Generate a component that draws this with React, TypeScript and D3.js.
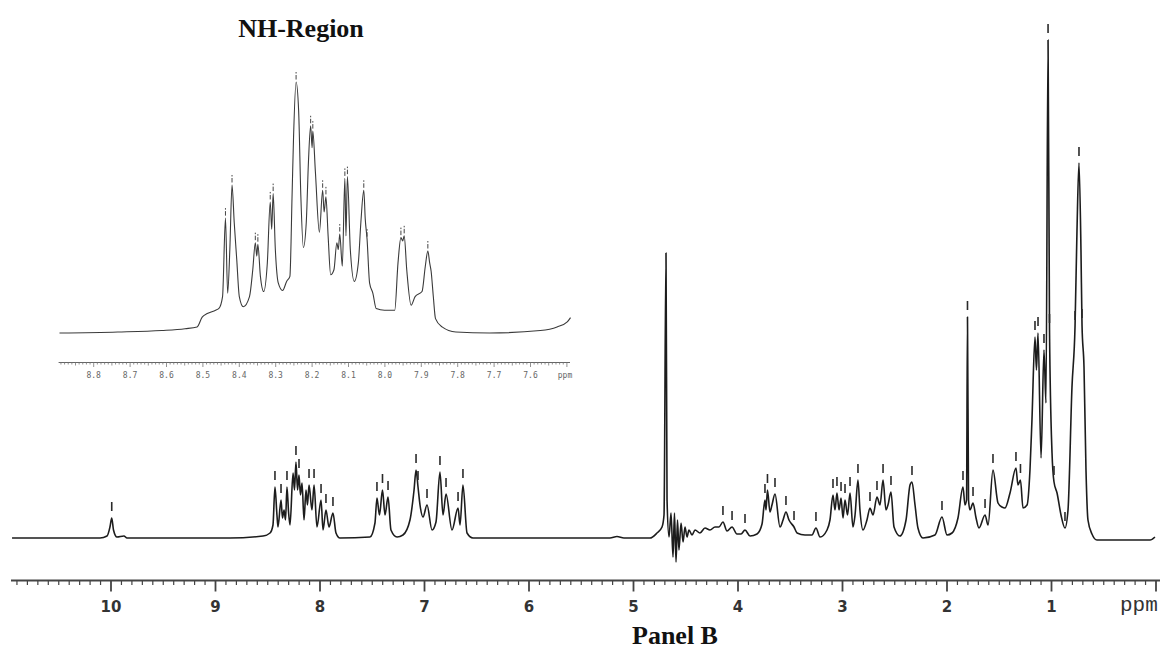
import React from 'react';
import * as d3 from 'd3';

// 1H spectrum, traced as [ppm, relative intensity] (tallest line = 100)
const mainTrace: [number, number][] = [
  [10.947, 0.4], [10.105, 0.4], [10.038, 0.8], [10.01, 2.6], [9.993, 4.4], [9.976, 2], [9.943, 0.6],
  [9.876, 0.8], [9.847, 0.4], [8.861, 0.4], [8.545, 0.8], [8.478, 1.4], [8.45, 3], [8.431, 10.6],
  [8.412, 5], [8.402, 2.6], [8.373, 8], [8.359, 4.4], [8.344, 6], [8.33, 4], [8.316, 10.6],
  [8.301, 5.6], [8.287, 3], [8.258, 13.4], [8.244, 10], [8.23, 15.6], [8.215, 10], [8.201, 13],
  [8.187, 9], [8.172, 11.4], [8.153, 4], [8.134, 10], [8.12, 7], [8.105, 11], [8.077, 6],
  [8.057, 11], [8.029, 2.6], [7.99, 8], [7.971, 2], [7.943, 6], [7.914, 2.6], [7.876, 5.4],
  [7.847, 1.4], [7.809, 0.4], [7.522, 0.6], [7.474, 3.4], [7.455, 8.4], [7.431, 5], [7.402, 10],
  [7.378, 5], [7.349, 8.6], [7.321, 2], [7.263, 0.6], [7.206, 1], [7.139, 4], [7.1, 10],
  [7.081, 14], [7.062, 10.6], [7.043, 7], [7.014, 4.6], [6.976, 7], [6.928, 2], [6.89, 3.6],
  [6.852, 13.6], [6.823, 5], [6.794, 9.2], [6.737, 2], [6.679, 6.4], [6.66, 3], [6.632, 11],
  [6.593, 1.4], [6.536, 0.4], [5.225, 0.4], [5.158, 0.7], [5.091, 0.4], [4.842, 0.4], [4.775, 1.4],
  [4.727, 2.6], [4.708, 5], [4.689, 57.4], [4.679, 8], [4.66, 0.6], [4.641, 5.4], [4.622, -3.4],
  [4.608, 5.4], [4.593, -4.4], [4.579, 4], [4.565, -2], [4.545, 3.4], [4.526, -0.4], [4.507, 2.6],
  [4.488, 0.6], [4.469, 2], [4.44, 1], [4.411, 2], [4.364, 1.4], [4.316, 2.4], [4.268, 2],
  [4.22, 2.6], [4.182, 2.6], [4.144, 3.6], [4.105, 1.8], [4.057, 2.6], [4.01, 1.2], [3.971, 1.2],
  [3.933, 2], [3.885, 0.8], [3.818, 1.2], [3.77, 3.2], [3.742, 8], [3.732, 6], [3.718, 10],
  [3.694, 5.6], [3.675, 7], [3.646, 9.2], [3.598, 2.6], [3.569, 4], [3.541, 5.6], [3.512, 4],
  [3.464, 2.6], [3.435, 1.4], [3.359, 1], [3.292, 1], [3.254, 2.4], [3.215, 0.6], [3.148, 2],
  [3.12, 4], [3.091, 9], [3.072, 6], [3.053, 9.4], [3.033, 6], [3.014, 8.4], [2.995, 4.4],
  [2.976, 8], [2.952, 5], [2.928, 9.4], [2.9, 2.6], [2.88, 5], [2.852, 12], [2.833, 6],
  [2.804, 2], [2.766, 4], [2.737, 6.4], [2.708, 5], [2.67, 8.6], [2.641, 7], [2.612, 12],
  [2.584, 6], [2.565, 7], [2.536, 9.6], [2.507, 2.6], [2.45, 0.8], [2.392, 4], [2.354, 11],
  [2.335, 11.6], [2.306, 7], [2.278, 2.4], [2.23, 0.4], [2.115, 1], [2.048, 4.6], [2.0, 1],
  [1.952, 1.4], [1.895, 4.4], [1.847, 10.6], [1.828, 7], [1.813, 8], [1.804, 44.6], [1.794, 8],
  [1.78, 6], [1.751, 7.4], [1.722, 4.4], [1.694, 2.4], [1.636, 5], [1.607, 3], [1.56, 14],
  [1.512, 7.4], [1.474, 6.6], [1.445, 6.4], [1.397, 9.4], [1.34, 14.4], [1.321, 11], [1.297, 12],
  [1.273, 6.4], [1.234, 7], [1.206, 14], [1.187, 24], [1.158, 40.6], [1.144, 34], [1.129, 41.4],
  [1.1, 16.4], [1.072, 38], [1.053, 27.4], [1.033, 100], [1.019, 42], [0.995, 17.4], [0.976, 11.6],
  [0.947, 9.4], [0.909, 5], [0.871, 2.4], [0.842, 6], [0.804, 30.6], [0.775, 42.6], [0.756, 62],
  [0.737, 75.4], [0.718, 58], [0.708, 43], [0.689, 34.6], [0.67, 14], [0.651, 4], [0.613, 1.2],
  [0.565, 0], [0.057, 0], [0.01, 0.6],
];

// peak-pick labels drawn above the spectrum (ppm)
const mainMarks: number[] = [
  9.993, 8.431, 8.373, 8.316, 8.23, 8.201, 8.105, 8.057, 7.99, 7.943, 7.876, 7.455, 7.402, 7.349,
  7.081, 7.062, 6.976, 6.852, 6.794, 6.679, 6.632, 4.144, 4.057, 3.933, 3.742, 3.718, 3.646, 3.541,
  3.464, 3.254, 3.091, 3.053, 3.014, 2.976, 2.928, 2.852, 2.737, 2.67, 2.612, 2.536, 2.335, 2.048,
  1.847, 1.804, 1.751, 1.636, 1.56, 1.34, 1.297, 1.158, 1.129, 1.072, 1.033, 1.019, 0.976, 0.871,
  0.775, 0.737, 0.708,
];

const mainTicks: number[] = [10, 9, 8, 7, 6, 5, 4, 3, 2, 1];

// amide (NH) region expansion, [ppm, relative intensity]
const insetTrace: [number, number][] = [
  [8.894, 0], [8.734, 0.4], [8.613, 1], [8.549, 1.7], [8.516, 2.4], [8.502, 6.3], [8.488, 7.7],
  [8.465, 9], [8.456, 9.7], [8.446, 14.4], [8.438, 45.4], [8.432, 15.7], [8.426, 33], [8.42, 58.5],
  [8.414, 43.8], [8.407, 29], [8.4, 14.4], [8.389, 10.4], [8.372, 14.4], [8.363, 25], [8.356, 35.7],
  [8.352, 30.4], [8.349, 35.1], [8.342, 22.4], [8.333, 16.4], [8.323, 27.7], [8.315, 51.8],
  [8.311, 41], [8.307, 55.1], [8.301, 33], [8.293, 19.8], [8.281, 16.8], [8.27, 20.4], [8.261, 22.4],
  [8.255, 54.5], [8.251, 77.2], [8.244, 99.2], [8.237, 87.9], [8.231, 54.5], [8.224, 33.8],
  [8.216, 43.8], [8.21, 67.8], [8.204, 81.9], [8.2, 73.2], [8.198, 79.8], [8.191, 63.8], [8.18, 39.8],
  [8.171, 56.4], [8.167, 47.8], [8.162, 53.8], [8.156, 38.4], [8.149, 23], [8.14, 25], [8.132, 35.7],
  [8.128, 33], [8.124, 39.1], [8.117, 26.4], [8.11, 61.1], [8.107, 38.4], [8.103, 61.8], [8.095, 33],
  [8.084, 20.4], [8.073, 27.7], [8.066, 43.8], [8.058, 56.4], [8.054, 45.1], [8.049, 37.1],
  [8.042, 19.7], [8.033, 15.7], [8.024, 9.7], [8.001, 9], [7.973, 9], [7.964, 27.7], [7.956, 37.7],
  [7.951, 36.4], [7.947, 38.4], [7.94, 25], [7.928, 11], [7.917, 14.4], [7.898, 16.4], [7.889, 26.4],
  [7.882, 32.4], [7.877, 27.7], [7.873, 24.4], [7.867, 14.4], [7.861, 5.7], [7.843, 2.4],
  [7.805, 0.4], [7.713, 0], [7.573, 1], [7.527, 2.4], [7.499, 4.4], [7.49, 6.1],
];

const insetMarks: number[] = [
  8.438, 8.42, 8.356, 8.349, 8.315, 8.307, 8.244, 8.204, 8.198, 8.171, 8.162, 8.124, 8.11, 8.103,
  8.058, 8.049, 7.956, 7.947, 7.882,
];

const insetTicks: number[] = [8.8, 8.7, 8.6, 8.5, 8.4, 8.3, 8.2, 8.1, 8.0, 7.9, 7.8, 7.7, 7.6];

const nearest = (trace: [number, number][], ppm: number) =>
  d3.least(trace, (d) => Math.abs(d[0] - ppm)) as [number, number];

export default function App() {
  const W = 1160;
  const H = 652;

  const xMain = d3.scaleLinear().domain([10, 1]).range([111, 1051.5]);
  const yMain = d3.scaleLinear().domain([0, 100]).range([540, 40]);
  const xIn = d3.scaleLinear().domain([8.8, 7.6]).range([93.7, 530.5]);
  const yIn = d3.scaleLinear().domain([0, 100]).range([333, 80]);

  const mainLine = d3
    .line<[number, number]>()
    .x((d) => xMain(d[0]))
    .y((d) => yMain(d[1]))
    .curve(d3.curveMonotoneX);
  const insetLine = d3
    .line<[number, number]>()
    .x((d) => xIn(d[0]))
    .y((d) => yIn(d[1]))
    .curve(d3.curveMonotoneX);

  const mainMinor = d3.range(0, 110).map((i) => i / 10);
  const insetMinor = d3.range(750, 890).map((i) => i / 100);

  const axisY = 580.5;
  const inAxisY = 362.5;

  return (
    <svg
      width={W}
      height={H}
      viewBox={`0 0 ${W} ${H}`}
      style={{ position: 'absolute', left: 0, top: 0, background: '#fff' }}
    >
      <rect x={0} y={0} width={W} height={H} fill="#fff" />

      {/* inset title */}
      <text
        x={301}
        y={37}
        textAnchor="middle"
        fontFamily="'Liberation Serif', 'Times New Roman', serif"
        fontWeight="bold"
        fontSize={26}
        fill="#111"
      >
        NH-Region
      </text>

      {/* inset spectrum */}
      <path d={insetLine(insetTrace) ?? ''} fill="none" stroke="#3a3a3a" strokeWidth={1.1} />
      {insetMarks.map((m, i) => {
        const p = nearest(insetTrace, m);
        const y = yIn(p[1]);
        return (
          <g key={`im${i}`} stroke="#444" strokeWidth={1}>
            <line x1={xIn(p[0])} x2={xIn(p[0])} y1={y - 10} y2={y - 8.5} />
            <line x1={xIn(p[0])} x2={xIn(p[0])} y1={y - 7} y2={y - 2.5} />
          </g>
        );
      })}

      {/* inset axis */}
      <line x1={58.6} x2={570} y1={inAxisY} y2={inAxisY} stroke="#666" strokeWidth={1} />
      {insetMinor.map((v, i) => {
        const k = Math.round(v * 100);
        const len = k % 10 === 0 ? 4.5 : k % 5 === 0 ? 3 : 2;
        return (
          <line
            key={`it${i}`}
            x1={xIn(v)}
            x2={xIn(v)}
            y1={inAxisY}
            y2={inAxisY + len}
            stroke="#777"
            strokeWidth={0.8}
          />
        );
      })}
      {insetTicks.map((v, i) => (
        <text
          key={`il${i}`}
          x={xIn(v)}
          y={377.5}
          textAnchor="middle"
          fontFamily="'DejaVu Sans Mono', monospace"
          fontSize={8}
          fill="#666"
        >
          {v.toFixed(1)}
        </text>
      ))}
      <text x={565} y={377.5} textAnchor="middle" fontFamily="'DejaVu Sans Mono', monospace" fontSize={8} fill="#666">
        ppm
      </text>

      {/* full spectrum */}
      <path d={mainLine(mainTrace) ?? ''} fill="none" stroke="#1c1c1c" strokeWidth={1.6} strokeLinejoin="round" />
      {mainMarks.map((m, i) => {
        const p = nearest(mainTrace, m);
        const y = yMain(p[1]);
        return (
          <line
            key={`mm${i}`}
            x1={xMain(p[0])}
            x2={xMain(p[0])}
            y1={y - 16}
            y2={y - 7}
            stroke="#2a2a2a"
            strokeWidth={1.6}
          />
        );
      })}

      {/* main axis */}
      <line x1={11} x2={W} y1={axisY} y2={axisY} stroke="#444" strokeWidth={2} />
      {mainMinor.map((v, i) => {
        const major = Math.round(v * 10) % 10 === 0;
        return (
          <line
            key={`mt${i}`}
            x1={xMain(v)}
            x2={xMain(v)}
            y1={axisY}
            y2={axisY + (major ? 11 : 4.5)}
            stroke="#444"
            strokeWidth={major ? 1.8 : 1.2}
          />
        );
      })}
      {mainTicks.map((v, i) => (
        <text
          key={`ml${i}`}
          x={xMain(v)}
          y={612}
          textAnchor="middle"
          fontFamily="'DejaVu Sans', sans-serif"
          fontSize={15}
          fontWeight={600}
          fill="#333"
        >
          {v}
        </text>
      ))}
      <text x={1120} y={611} fontFamily="'Liberation Mono', monospace" fontSize={21} fill="#333">
        ppm
      </text>

      <text
        x={675}
        y={644}
        textAnchor="middle"
        fontFamily="'Liberation Serif', 'Times New Roman', serif"
        fontWeight="bold"
        fontSize={26}
        fill="#111"
      >
        Panel B
      </text>
    </svg>
  );
}
